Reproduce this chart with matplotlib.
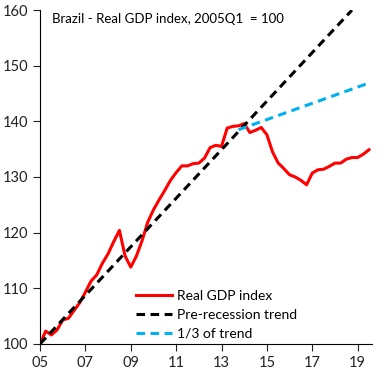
import matplotlib.pyplot as plt
import numpy as np

# quarterly real GDP index, 2005Q1 .. 2019Q3
gdp = [100.0, 102.3, 101.6, 102.5,
       104.3, 104.6, 106.0, 107.4,
       109.3, 111.3, 112.4, 114.5,
       116.2, 118.4, 120.4, 115.8,
       113.8, 115.8, 118.6, 121.9,
       124.1, 125.9, 127.6, 129.4,
       130.8, 132.0, 132.0, 132.4,
       132.5, 133.4, 135.3, 135.7,
       135.5, 138.8, 139.1, 139.2,
       139.6, 138.0, 138.4, 138.9,
       137.6, 134.5, 132.5, 131.5,
       130.4, 130.0, 129.4, 128.6,
       130.7, 131.3, 131.4, 131.9,
       132.5, 132.5, 133.2, 133.5,
       133.5, 134.1, 134.9]

# trend lines (quarter index, value)
trend_q = [0, 55]
trend_v = [100.0, 160.0]
third_q = [35, 58]
third_v = [138.5, 146.9]

xticks = [2005, 2007, 2009, 2011, 2013, 2015, 2017, 2019]
xlabels = ['05', '07', '09', '11', '13', '15', '17', '19']

plt.rcParams['font.family'] = ['Lato', 'DejaVu Sans']

def qyear(q):
    return 2005 + np.asarray(q) / 4.0

fig = plt.figure(figsize=(3.85, 3.75), dpi=100)
ax = fig.add_axes([0.104, 0.083, 0.862, 0.890])

ax.plot(qyear(np.arange(len(gdp))), gdp, color='#ff0000', lw=2.2,
        label='Real GDP index')
ax.plot(qyear(trend_q), trend_v, color='black', lw=2.2, ls=(0, (2.8, 1.8)),
        label='Pre-recession trend')
ax.plot(qyear(third_q), third_v, color='#00b0f0', lw=2.2, ls=(0, (2.8, 1.8)),
        label='1/3 of trend')

ax.set_xlim(2005, 2019.63)
ax.set_ylim(100, 160)
ax.set_xticks(xticks)
ax.set_xticklabels(xlabels)
ax.set_yticks(range(100, 161, 10))
ax.tick_params(labelsize=10.5, length=5, direction='out', colors='#222222')
for s in ['top', 'right']:
    ax.spines[s].set_visible(False)

ax.text(0.035, 0.99, 'Brazil - Real GDP index, 2005Q1  = 100', transform=ax.transAxes,
        fontsize=9.5, va='top', ha='left')

ax.legend(loc='lower left', bbox_to_anchor=(0.29, 0.012), frameon=False, fontsize=10,
          borderpad=0, borderaxespad=0,
          handlelength=2.6, handletextpad=0.35, labelspacing=0.5)

fig.savefig('out.png', dpi=100)
